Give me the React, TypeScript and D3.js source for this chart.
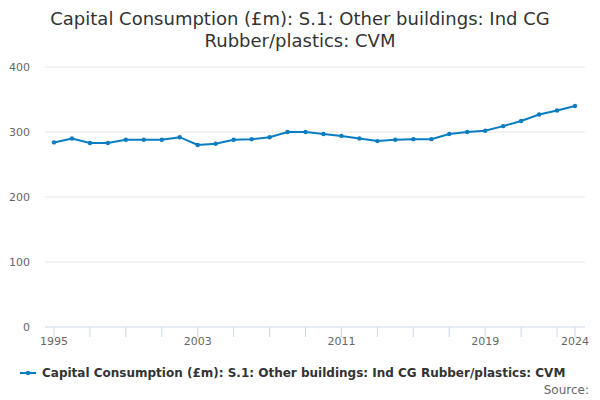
import React from "react";
import * as d3 from "d3";

const years = d3.range(1995, 2025);
const values = [284, 290, 283, 283, 288, 288, 288, 292, 280, 282, 288, 289, 292, 300, 300, 297, 294, 290, 286, 288, 289, 289, 297, 300, 302, 309, 317, 327, 333, 340];
const yTicks = [0, 100, 200, 300, 400];
const xLabels = [1995, 2003, 2011, 2019, 2024];
const xTicks = [...d3.range(1995, 2025, 2), 2024];
const title = ["Capital Consumption (£m): S.1: Other buildings: Ind CG", "Rubber/plastics: CVM"];
const seriesName = "Capital Consumption (£m): S.1: Other buildings: Ind CG Rubber/plastics: CVM";

const App: React.FC = () => {
  const font = "'DejaVu Sans', sans-serif";
  const x = d3.scaleLinear().domain([1995, 2024]).range([54, 575]);
  const y = d3.scaleLinear().domain([0, 400]).range([327, 67]);
  const line = d3.line<number>().x((_, i) => x(years[i])).y((d) => y(d));
  const color = "#0a7dc2";
  return (
    <svg width={600} height={400} style={{ position: "absolute", left: 0, top: 0 }} fontFamily={font}>
      <rect width={600} height={400} fill="#fff" />
      {title.map((t, i) => (
        <text key={i} x={300} y={25 + i * 22} textAnchor="middle" fontSize={18} fill="#333">{t}</text>
      ))}
      {yTicks.map((t) => (
        <g key={t}>
          <line x1={45} x2={585} y1={y(t)} y2={y(t)} stroke={t === 0 ? "#ccd6eb" : "#e6e6e6"} />
          <text x={30} y={y(t) + 4} textAnchor="end" fontSize={11} fill="#666">{t}</text>
        </g>
      ))}
      {xTicks.map((t) => (
        <line key={t} x1={x(t)} x2={x(t)} y1={327} y2={337} stroke="#ccd6eb" />
      ))}
      {xLabels.map((t) => (
        <text key={t} x={x(t)} y={345} textAnchor="middle" fontSize={11} fill="#666">{t}</text>
      ))}
      <path d={line(values) ?? ""} fill="none" stroke={color} strokeWidth={2} />
      {values.map((v, i) => (
        <circle key={i} cx={x(years[i])} cy={y(v)} r={2.2} fill={color} />
      ))}
      <line x1={20} x2={36} y1={373} y2={373} stroke={color} strokeWidth={2} />
      <circle cx={28} cy={373} r={2.2} fill={color} />
      <text x={42} y={377} fontSize={12} fontWeight="bold" fill="#333">{seriesName}</text>
      <text x={589} y={394} textAnchor="end" fontSize={12} fill="#666">Source:</text>
    </svg>
  );
};

export default App;
